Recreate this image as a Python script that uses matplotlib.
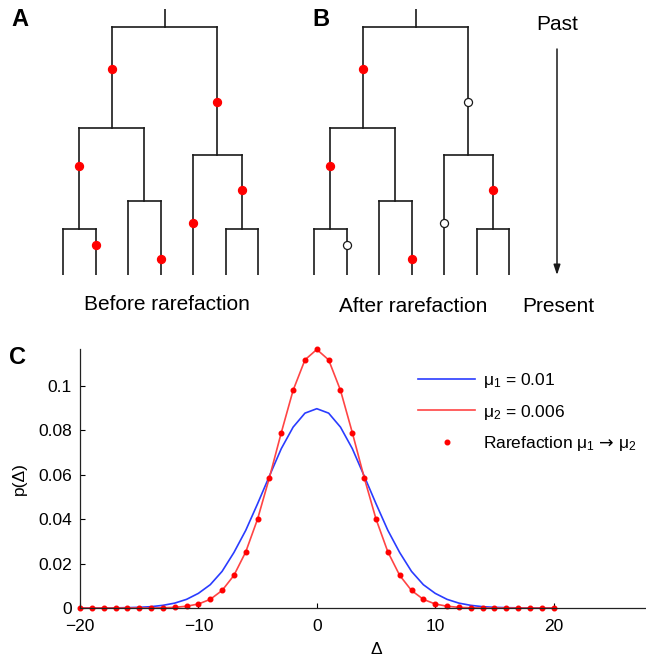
import numpy as np
import matplotlib.pyplot as plt
from matplotlib.lines import Line2D

plt.rcParams['font.family'] = ['Liberation Sans', 'DejaVu Sans']
plt.rcParams['mathtext.fontset'] = 'custom'
plt.rcParams['mathtext.rm'] = 'Liberation Sans'
plt.rcParams['mathtext.sf'] = 'DejaVu Sans'
plt.rcParams['mathtext.default'] = 'regular'

# ---- tree data (leaves 0..6, times measured up from the present) ----
leaf_names = ['0', '1', '2', '3', '4', '5', '6']
node_children = {
    'LL': ['0', '1'],
    'LR': ['2', '3'],
    'RR': ['5', '6'],
    'L': ['LL', 'LR'],
    'R': ['4', 'RR'],
    'root': ['L', 'R'],
}
node_time = {'LL': 46, 'LR': 74, 'RR': 46, 'L': 147, 'R': 120, 'root': 248}
stem_top = 266

# mutations: (branch, time)
mut_branch = ['L', 'R', 'LL', '1', '3', '4', 'RR']
mut_time = [206, 173, 109, 30, 16, 52, 85]
kept_A = [True, True, True, True, True, True, True]
kept_B = [True, False, True, False, True, False, True]

# ---- panel C data ----
delta = np.arange(-20, 21)
half_mu1 = [0.0898, 0.0878, 0.0815, 0.0718, 0.0595, 0.0470, 0.0350, 0.0250,
            0.0165, 0.0105, 0.0066, 0.0039, 0.0022, 0.0012, 0.0006, 0.0003,
            0.00015, 0.00007, 0.00003, 0.00001, 0.0]
half_mu2 = [0.1165, 0.1118, 0.0981, 0.0790, 0.0588, 0.0401, 0.0253, 0.0147,
            0.0079, 0.0039, 0.0018, 0.0008, 0.0003, 0.0001, 0.0, 0.0,
            0.0, 0.0, 0.0, 0.0, 0.0]
p_mu1 = np.array(half_mu1[::-1] + half_mu1[1:])
p_mu2 = np.array(half_mu2[::-1] + half_mu2[1:])
p_rare = p_mu2.copy()

yticks = [0, 0.02, 0.04, 0.06, 0.08, 0.1]
ytick_labels = ['0', '0.02', '0.04', '0.06', '0.08', '0.1']
xticks = [-20, -10, 0, 10, 20]

W, H = 646, 659
fig = plt.figure(figsize=(W / 100, H / 100), dpi=100)

# overlay in pixel coordinates for texts and the time arrow
top = fig.add_axes([0, 0, 1, 1])
top.set_xlim(0, W)
top.set_ylim(H, 0)
top.axis('off')

tree_col = '#1a1a1a'


def node_x(name):
    if name in leaf_names:
        return float(name)
    return np.mean([node_x(c) for c in node_children[name]])


def node_t(name):
    return 0 if name in leaf_names else node_time[name]


def draw_tree(x0_px, kept):
    ax = fig.add_axes([(x0_px - 16.25) / W, (H - 275) / H, 227.5 / W, stem_top / H])
    ax.set_xlim(-0.5, 6.5)
    ax.set_ylim(0, stem_top)
    ax.axis('off')
    for name, kids in node_children.items():
        t = node_time[name]
        xs = [node_x(k) for k in kids]
        ax.plot([min(xs), max(xs)], [t, t], color=tree_col, lw=1.2, solid_capstyle='projecting')
        for k in kids:
            ax.plot([node_x(k)] * 2, [node_t(k), t], color=tree_col, lw=1.2)
    ax.plot([node_x('root')] * 2, [node_time['root'], stem_top], color=tree_col, lw=1.2)
    for b, t, k in zip(mut_branch, mut_time, kept):
        ax.plot(node_x(b), t, 'o', ms=5.8, clip_on=False, zorder=3,
                mfc='#ff0000' if k else 'white',
                mec='#ff0000' if k else tree_col, mew=0.9)
    return ax


draw_tree(63, kept_A)
draw_tree(314, kept_B)

top.annotate('', xy=(557, 275), xytext=(557, 49),
             arrowprops=dict(arrowstyle='-|>,head_width=0.2,head_length=0.6', color=tree_col,
                             lw=1.1, mutation_scale=10, shrinkA=0, shrinkB=0))
top.text(557, 24, 'Past', ha='center', va='center', fontsize=15)
top.text(558, 306, 'Present', ha='center', va='center', fontsize=15)
top.text(167, 305, 'Before rarefaction', ha='center', va='center', fontsize=15)
top.text(413, 306, 'After rarefaction', ha='center', va='center', fontsize=15)
top.text(20, 20, 'A', ha='center', va='center', fontsize=17, fontweight='bold')
top.text(321, 20, 'B', ha='center', va='center', fontsize=17, fontweight='bold')
top.text(18, 357, 'C', ha='center', va='center', fontsize=17, fontweight='bold')

# ---- panel C ----
ax = fig.add_axes([80 / W, 51 / H, 592 / W, 259 / H])
ax.plot(delta, p_mu1, color='#2a3cff', lw=1.2)
ax.plot(delta, p_mu2, color='#ff4444', lw=1.2)
ax.plot(delta, p_rare, 'o', color='#ff0000', ms=3.3, clip_on=False)
ax.set_xlim(-20, 30)
ax.set_ylim(0, 0.1167)
ax.set_xticks(xticks)
ax.set_yticks(yticks)
ax.set_yticklabels(ytick_labels)
for s in ['top', 'right']:
    ax.spines[s].set_visible(False)
for s in ['left', 'bottom']:
    ax.spines[s].set_linewidth(0.9)
    ax.spines[s].set_color('#222222')
ax.tick_params(direction='in', length=3.5, width=0.8, labelsize=12.5)
ax.tick_params(axis='x', pad=8)
ax.tick_params(axis='y', pad=6)
ax.set_xlabel('Δ', fontsize=12.5, labelpad=6)
ax.set_ylabel('p(Δ)', fontsize=12.5, labelpad=8)

handles = [
    Line2D([], [], color='#2a3cff', lw=1.2),
    Line2D([], [], color='#ff4444', lw=1.2),
    Line2D([], [], ls='none', marker='o', color='#ff0000', ms=3.3),
]
labels = ['μ$_1$ = 0.01', 'μ$_2$ = 0.006', 'Rarefaction μ$_1$ $\\mathsf{→}$ μ$_2$']
fig.legend(handles, labels, loc='upper left', bbox_to_anchor=(418 / W, (H - 371) / H),
           frameon=False, fontsize=12.5, borderpad=0, borderaxespad=0,
           handlelength=3.3, handletextpad=0.45, labelspacing=0.72)

fig.savefig('out.png', dpi=100)
